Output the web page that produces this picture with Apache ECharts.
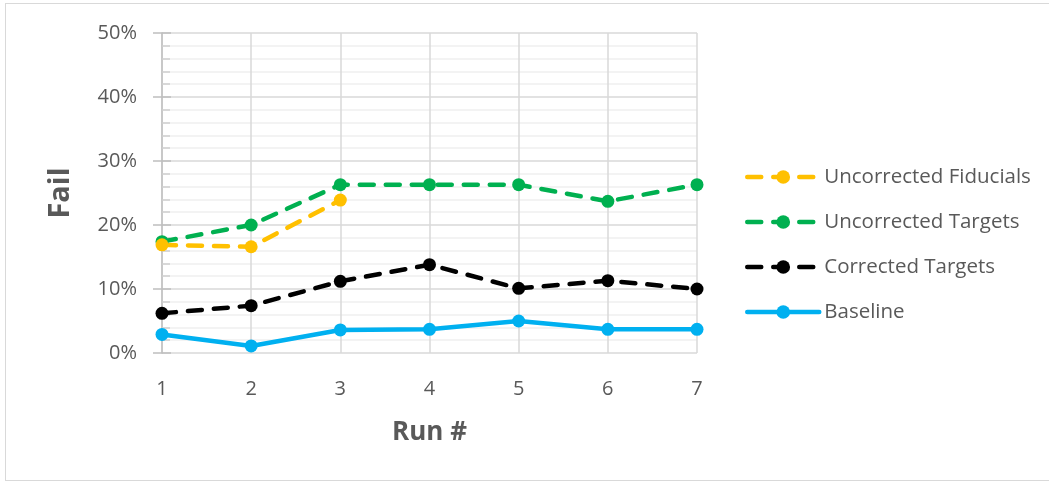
<!DOCTYPE html>
<html>
<head>
<meta charset="utf-8">
<script src="https://cdn.jsdelivr.net/npm/echarts@6/dist/echarts.min.js"></script>
<style>
  html, body { margin: 0; padding: 0; background: #fff; }
  #frame { position: absolute; left: 5px; top: 3px; width: 1060px; height: 478px; border: 1px solid #d9d9d9; box-sizing: border-box; }
  #chart { position: absolute; left: 0; top: 0; width: 1049px; height: 483px; }
</style>
</head>
<body>
<div id="frame"></div>
<div id="chart"></div>
<script>
// Run numbers on the x axis
const runs = ['1', '2', '3', '4', '5', '6', '7'];
// Failure rate per run, in percent
const uncorrectedFiducials = [16.9, 16.6, 23.9, null, null, null, null];
const uncorrectedTargets = [17.4, 20.0, 26.3, 26.3, 26.3, 23.7, 26.3];
const correctedTargets = [6.2, 7.4, 11.2, 13.8, 10.1, 11.3, 10.0];
const baseline = [2.9, 1.1, 3.6, 3.7, 5.0, 3.7, 3.7];
// Y axis range and step, in percent
const yMin = 0, yMax = 50, yStep = 10;

const font = 'Open Sans';
const textGray = '#595959';

function lineSeries(name, data, color, dashed) {
  return {
    name: name,
    type: 'line',
    data: data,
    symbol: 'circle',
    symbolSize: 13,
    showSymbol: true,
    connectNulls: false,
    color: color,
    itemStyle: { color: color },
    lineStyle: {
      color: color,
      width: 4.5,
      type: dashed ? [14, 12] : 'solid',
      cap: 'round',
      join: 'round'
    },
    emphasis: { disabled: true },
    animation: false
  };
}

const chart = echarts.init(document.getElementById('chart'), null, { renderer: 'canvas' });
chart.setOption({
  backgroundColor: 'transparent',
  animation: false,
  grid: { left: 162, right: 352, top: 33, bottom: 130, containLabel: false },
  legend: {
    orient: 'vertical',
    left: 745,
    top: 165,
    padding: 0,
    itemWidth: 72,
    itemHeight: 17,
    itemGap: 21,
    lineStyle: { width: 4.5 },
    textStyle: { fontFamily: font, fontSize: 20.5, color: textGray, lineHeight: 24, padding: [0, 0, 0, 0] },
    data: ['Uncorrected Fiducials', 'Uncorrected Targets', 'Corrected Targets', 'Baseline'],
    selectedMode: false
  },
  xAxis: {
    type: 'category',
    data: runs,
    boundaryGap: false,
    name: 'Run #',
    nameLocation: 'middle',
    nameGap: 67,
    nameTextStyle: { fontFamily: font, fontSize: 26, fontWeight: 'bold', color: textGray },
    axisLine: { show: false },
    axisTick: { show: false },
    axisLabel: { margin: 26, fontFamily: font, fontSize: 20, color: textGray },
    splitLine: { show: true, lineStyle: { color: '#d9d9d9', width: 1.5 } }
  },
  yAxis: [{
    type: 'value',
    min: yMin,
    max: yMax,
    interval: yStep,
    name: 'Fail',
    nameLocation: 'middle',
    nameGap: 87,
    nameTextStyle: { fontFamily: font, fontSize: 29, fontWeight: 'bold', color: textGray },
    axisLine: { show: true, lineStyle: { color: '#bfbfbf', width: 1.5 } },
    axisTick: { show: true, inside: false, length: 9, lineStyle: { color: '#bfbfbf', width: 1.5 } },
    axisLabel: { margin: 25, fontFamily: font, fontSize: 20, color: textGray, formatter: '{value}%' },
    splitLine: { show: true, lineStyle: { color: '#d9d9d9', width: 1.5 } },
    minorTick: { show: false },
    minorSplitLine: { show: true, lineStyle: { color: '#f0f0f0', width: 1.5 } }
  }, {
    // inner tick marks (major and minor) drawn on the same scale
    type: 'value',
    position: 'left',
    offset: 0,
    min: yMin,
    max: yMax,
    interval: yStep,
    axisLine: { show: false },
    axisTick: { show: true, inside: true, length: 9, lineStyle: { color: '#bfbfbf', width: 1.5 } },
    minorTick: { show: true, splitNumber: 5, length: 8, lineStyle: { color: '#d0d0d0', width: 1.5 } },
    axisLabel: { show: false },
    splitLine: { show: false }
  }],
  series: [
    lineSeries('Baseline', baseline, '#00b0f0', false),
    lineSeries('Corrected Targets', correctedTargets, '#000000', true),
    lineSeries('Uncorrected Targets', uncorrectedTargets, '#00b050', true),
    lineSeries('Uncorrected Fiducials', uncorrectedFiducials, '#ffc000', true)
  ]
});
</script>
</body>
</html>
